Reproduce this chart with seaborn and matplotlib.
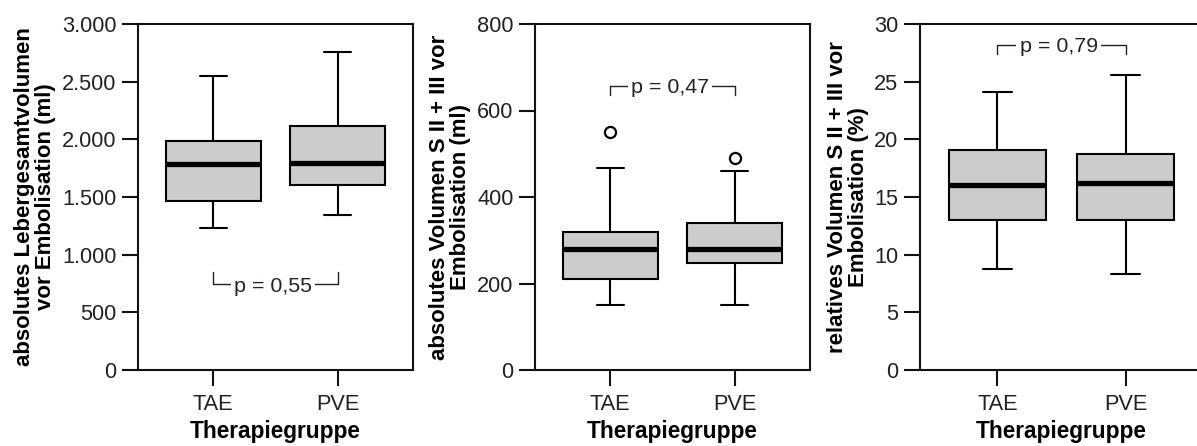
import numpy as np
import pandas as pd
import matplotlib.pyplot as plt
import matplotlib.ticker as mticker
import seaborn as sns

sns.set_style("ticks")
plt.rcParams['font.family'] = ['Liberation Sans', 'DejaVu Sans']

# Gruppen
groups = ['TAE', 'PVE']

# Fünf-Punkte-Zusammenfassung: unterer Whisker, Q1, Median, Q3, oberer Whisker
liver_tae = [1230, 1465, 1790, 1985, 2550]
liver_pve = [1345, 1605, 1795, 2115, 2760]
abs_tae = [150, 210, 280, 320, 467]
abs_pve = [150, 248, 280, 340, 460]
rel_tae = [8.8, 13.0, 16.0, 19.1, 24.1]
rel_pve = [8.3, 13.0, 16.2, 18.7, 25.6]

# Ausreißer
abs_out_tae = [550]
abs_out_pve = [490]

ylabels = ['absolutes Lebergesamtvolumen\nvor Embolisation (ml)',
           'absolutes Volumen S II + III vor\nEmbolisation (ml)',
           'relatives Volumen S II + III vor\nEmbolisation (%)']
ylims = [3000, 800, 30]
ysteps = [500, 200, 5]
p_texts = ['p = 0,55', 'p = 0,47', 'p = 0,79']
p_line = [745, 657, 28.2]
p_tip = [850, 636, 27.4]


def expand(summary, outliers=()):
    lo, q1, med, q3, hi = summary
    return [lo, q1, q1, med, med, q3, q3, hi] + list(outliers)


def make_df(tae, pve, out_tae=(), out_pve=()):
    rows = []
    for g, s, o in [('TAE', tae, out_tae), ('PVE', pve, out_pve)]:
        for v in expand(s, o):
            rows.append({'Therapiegruppe': g, 'wert': v})
    return pd.DataFrame(rows)


frames = [make_df(liver_tae, liver_pve),
          make_df(abs_tae, abs_pve, abs_out_tae, abs_out_pve),
          make_df(rel_tae, rel_pve)]

fig = plt.figure(figsize=(11.97, 4.46), dpi=100)
W, H = 1197, 446
positions = [(138, 275), (535, 275), (920, 283)]

for i, df in enumerate(frames):
    left, width = positions[i]
    ax = fig.add_axes([left / W, 1 - 370 / H, width / W, 346 / H])
    sns.boxplot(data=df, x='Therapiegruppe', y='wert', order=groups,
                color='#cccccc', saturation=1, width=0.76, linewidth=1.5,
                linecolor='black', ax=ax, capwidths=0.22,
                medianprops=dict(linewidth=3.8, color='black'),
                flierprops=dict(marker='o', markersize=8, markerfacecolor='none',
                                markeredgecolor='black', markeredgewidth=1.6))
    ax.set_xlim(-0.605, 1.605)
    ax.set_ylim(0, ylims[i])
    ax.set_yticks(np.arange(0, ylims[i] + 1e-9, ysteps[i]))
    ax.yaxis.set_major_formatter(mticker.FuncFormatter(
        lambda v, pos: f'{int(round(v)):,}'.replace(',', '.')))
    for sp in ax.spines.values():
        sp.set_visible(True)
        sp.set_linewidth(1.5)
        sp.set_color('#111111')
    ax.tick_params(axis='both', length=11.5, width=1.5, color='#111111',
                   labelsize=15.7, labelcolor='#222222')
    ax.tick_params(axis='y', pad=4)
    ax.tick_params(axis='x', pad=6)
    ax.set_xlabel('Therapiegruppe', fontsize=16.3, fontweight='bold',
                  labelpad=3.5, color='black')
    ax.set_ylabel(ylabels[i], fontsize=16, fontweight='bold', labelpad=4,
                  linespacing=1.0, color='black')

    # p-Wert Klammer
    y0, y1 = p_line[i], p_tip[i]
    ax.plot([0, 0, 1, 1], [y1, y0, y0, y1], color='#222222', lw=1.0, zorder=3)
    ax.text(0.48, y0, p_texts[i], ha='center', va='center_baseline',
            fontsize=15.4, color='#222233', zorder=4,
            bbox=dict(facecolor='white', edgecolor='none', pad=2.5))

fig.savefig('out.png', dpi=100)
